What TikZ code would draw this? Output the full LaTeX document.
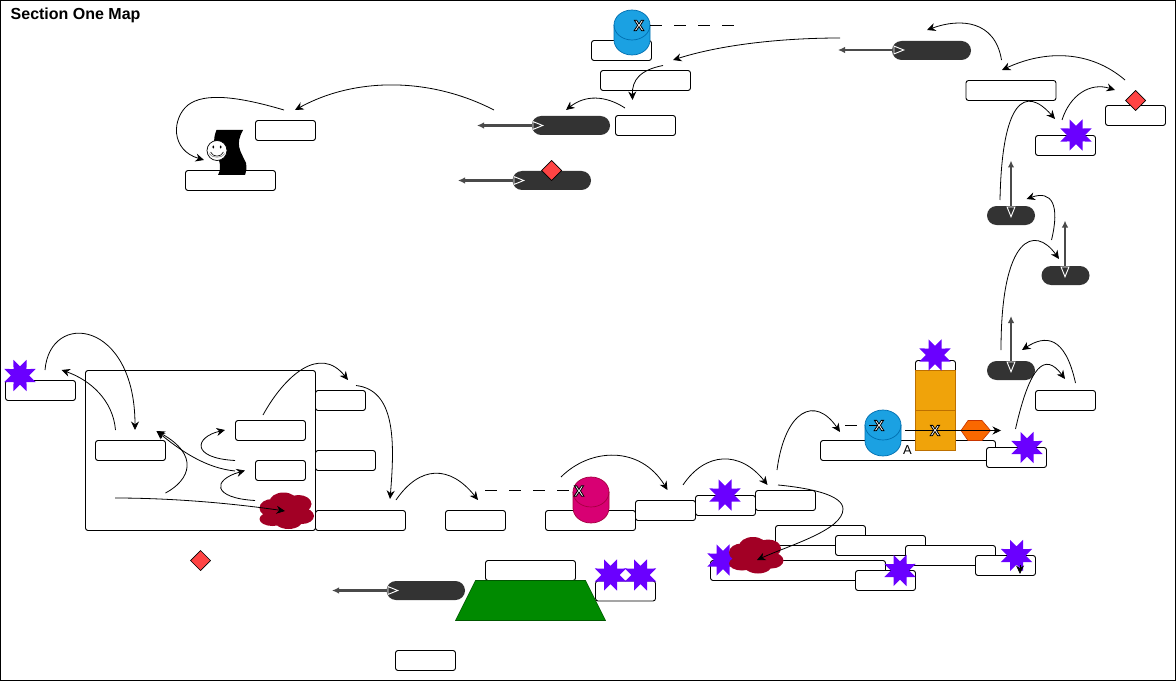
\documentclass[tikz,border=0pt]{standalone}
\usepackage{fontspec}
\setmainfont{Liberation Sans}
\usetikzlibrary{shapes.geometric,arrows.meta}
\definecolor{pillc}{HTML}{333333}
\definecolor{shaft}{HTML}{4A4A4A}
\definecolor{redd}{HTML}{FF4444}
\definecolor{purp}{HTML}{6A00FF}
\definecolor{blu}{HTML}{1BA1E2}
\definecolor{bluS}{HTML}{006EAF}
\definecolor{pnk}{HTML}{D80073}
\definecolor{pnkS}{HTML}{A50040}
\definecolor{orng}{HTML}{F0A30A}
\definecolor{orngS}{HTML}{BD7000}
\definecolor{hexF}{HTML}{FA6800}
\definecolor{hexS}{HTML}{C73500}
\definecolor{grn}{HTML}{008A00}
\definecolor{grnS}{HTML}{005700}
\definecolor{crim}{HTML}{A20025}
\tikzset{
  wbox/.style={draw=black,fill=white,line width=0.9pt,rounded corners=2.5pt,inner sep=0pt,outer sep=0pt,anchor=north west},
  pill/.style={fill=pillc,rounded corners=9.5pt,inner sep=0pt,outer sep=0pt,anchor=north west,minimum height=19pt},
  pstar/.style={star,star points=8,star point ratio=1.85,shape border rotate=22.5,fill=purp,inner sep=0pt,outer sep=0pt,minimum size=34pt},
  rdiam/.style={diamond,draw=black,fill=redd,line width=0.7pt,inner sep=0pt,outer sep=0pt,minimum size=20pt},
  arr/.style={draw=black,line width=0.8pt,-{Stealth[length=8.5pt,width=8pt]}},
  dbl/.style={draw=shaft,line width=2.2pt,{Latex[length=7pt,width=6.5pt,color=shaft]}-{Triangle[length=11.5pt,width=9pt,color=white,fill=pillc,line width=0.9pt]}},
  dash12/.style={draw=black,line width=0.8pt,dash pattern=on 12pt off 12pt},
  mark x/.style={inner sep=0pt,font=\bfseries\fontsize{15}{15}\selectfont}
}
\newcommand{\rb}[5]{\node[wbox,minimum width=#4pt,minimum height=#5pt] (#1) at (#2,#3) {};}
\newcommand{\pl}[4]{\node[pill,minimum width=#4pt] (#1) at (#2,#3) {};}
\newcommand{\xm}[3]{\node[mark x] (#1) at (#2,#3) {\special{pdf:code 2 Tr 0.8 w 0 0 0 RG 1 1 1 rg}X\special{pdf:code 0 Tr 0 g 0 G}};}
\newcommand{\cyl}[6]{%
  \path[fill=#5,draw=#6,line width=0.7pt] (#1,#2+15) arc[start angle=180,end angle=360,x radius=#3/2,y radius=15]
     -- (#1+#3,#4-15) arc[start angle=0,end angle=180,x radius=#3/2,y radius=15] -- cycle;
  \draw[#6,line width=0.7pt] (#1,#2+15) arc[start angle=180,end angle=0,x radius=#3/2,y radius=15];}
\newcommand{\cld}[2]{\begin{scope}[shift={(#1,#2)}]
  \fill[crim] (-14.5,-3) ellipse[x radius=12.5,y radius=9]
    (-14,8) ellipse[x radius=13,y radius=7]
    (-3,-9) ellipse[x radius=14,y radius=9.5]
    (12,-7) ellipse[x radius=13,y radius=9]
    (15.5,5) ellipse[x radius=12,y radius=8]
    (2,8) ellipse[x radius=15,y radius=10]
    (0,0) ellipse[x radius=16,y radius=10];
\end{scope}}
\begin{document}
\begin{tikzpicture}[x=1pt,y=-1pt]
\useasboundingbox (0,0) rectangle (1176,682);
\fill[white] (0,0) rectangle (1176,682);
\draw[black,line width=1pt] (0.5,0.5) rectangle (1175.5,680.5);
\node[anchor=west,font=\bfseries\fontsize{16}{16}\selectfont,inner sep=0pt] (title) at (10.5,15.5) {Section One Map};

% top right
\rb{b966}{966}{80.5}{90}{20}
\rb{b1105}{1105.5}{105.5}{60}{20}
\rb{b1035}{1035.5}{135.5}{60}{20}
\node[pstar] (s1) at (1076,135) {};
\node[rdiam] (d1) at (1135.5,100.5) {};
% top middle
\rb{b591}{591.5}{40.5}{60}{20}
\rb{b600}{600.5}{70.5}{90}{20}
\rb{b615}{615.5}{115.5}{60}{20}
\cyl{614}{10}{36}{55}{blu}{bluS}
\draw[dash12] (650,25.5) -- (735,25.5);
\xm{x1}{639}{25.5}
\rb{b255}{255.5}{120.5}{60}{20}
\rb{b185}{185.5}{170.5}{90}{20}
% wave + smiley
\fill[black] (216.5,130) -- (243,130) .. controls (235,145) and (240,150) .. (246,163)
  .. controls (247,168) and (246,172) .. (245,175) -- (218,175)
  .. controls (226,160) and (208,150) .. cycle;
\node[circle,draw=black,fill=white,line width=0.7pt,minimum size=20pt,inner sep=0pt] (smile) at (217,150.5) {};
\fill[black] (213.3,147) ellipse[x radius=1,y radius=1.6] (220.7,147) ellipse[x radius=1,y radius=1.6];
\draw[black,line width=0.6pt] (210.5,152) .. controls (213,157.5) and (221,157.5) .. (223.5,152);
\draw[gray,line width=0.5pt] (209,153.5) .. controls (212,158.5) and (222,158.5) .. (225,153.5);
% pills
\pl{p1}{892}{41}{79}
\pl{p2}{531.7}{116}{78.3}
\pl{p3}{512.5}{171}{78.5}
\pl{p4}{987}{206}{48}
\pl{p5}{1041.5}{266}{48}
\pl{p6}{987}{361}{48}
\pl{p7}{386.5}{581}{78.5}
\node[rdiam] (d2) at (551.5,170.5) {};
% left area
\rb{big}{85.5}{370.5}{230}{160}
\rb{b5}{5.5}{380.5}{70}{20}
\rb{b95}{95.5}{440.5}{70}{20}
\rb{b235}{235.5}{420.5}{70}{20}
\rb{b255b}{255.5}{460.5}{50}{20}
\rb{b315a}{315.5}{390.5}{50}{20}
\rb{b315b}{315.5}{450.5}{60}{20}
\rb{b315c}{315.5}{510.5}{90}{20}
\rb{b445}{445.5}{510.5}{60}{20}
\rb{b545}{545.5}{510.5}{90}{20}
\rb{b485}{485.5}{560.5}{90}{20}
\rb{b595}{595.5}{581}{60}{20}
\rb{b395}{395.5}{650.5}{60}{20}
\node[pstar] (s2) at (20,375.5) {};
\cld{286.5}{511}
\node[rdiam] (d3) at (200.5,560.5) {};
\cyl{573}{477}{36}{523}{pnk}{pnkS}
\draw[dash12] (485,490.5) -- (571,490.5);
\xm{x2}{579}{491}
\path[fill=grn,draw=grnS,line width=0.6pt] (475.5,580.5) -- (585.5,580.5) -- (605.5,620.5) -- (455.5,620.5) -- cycle;
\node[pstar] (s3) at (610.5,575) {};
\node[pstar] (s4) at (640.5,575) {};
% right lower
\rb{b1035b}{1035.5}{390.5}{60}{20}
\rb{b820}{820.5}{440.5}{175}{20}
\rb{b986}{986.5}{447.5}{60}{20}
\node[font=\fontsize{13}{13}\selectfont,inner sep=0pt] (lblA) at (907.5,450) {A};
\cyl{865}{410}{36}{456}{blu}{bluS}
\draw[dash12] (845,425.5) -- (879,425.5);
\xm{x3}{879}{425.5}
\rb{b915}{915.5}{360.5}{40}{20}
\draw[orngS,fill=orng,line width=0.7pt] (915.5,370.5) rectangle (955.5,410.5);
\draw[orngS,fill=orng,line width=0.7pt] (915.5,410.5) rectangle (955.5,450.5);
\node[pstar] (s5) at (935,355) {};
\node[pstar] (s6) at (1027,447.5) {};
\path[fill=hexF,draw=hexS,line width=0.6pt] (961,430.5) -- (968,420.5) -- (982,420.5) -- (990.5,430.5) -- (982,440.5) -- (968,440.5) -- cycle;
\coordinate (cxs) at (905,430.5);
\coordinate (cxe) at (1001,430.5);
\draw[arr] (cxs) -- (cxe);
\xm{x4}{935}{430.5}
% lower cluster
\rb{b635}{635.5}{500.5}{60}{20}
\rb{b695}{695.5}{495.5}{60}{20}
\rb{b755}{755.5}{490.5}{60}{20}
\node[pstar] (s7) at (725,495) {};
\rb{b775}{775.5}{525.5}{90}{20}
\rb{b835}{835.5}{535.5}{90}{20}
\rb{b905}{905.5}{545.5}{90}{20}
\rb{b710}{710.5}{560.5}{175}{20}
\rb{b855}{855.5}{570.5}{60}{20}
\rb{b975}{975.5}{555.5}{60}{20}
\node[pstar] (s8) at (723,560) {};
\cld{756}{555.5}
\node[pstar] (s9) at (900,570.5) {};
\node[pstar] (s10) at (1016.5,555.5) {};
% double arrows
\coordinate (a1) at (838,50); \coordinate (a2) at (905,50);
\draw[dbl] (a1) -- (a2);
\coordinate (a3) at (477,125.5); \coordinate (a4) at (544,125.5);
\draw[dbl] (a3) -- (a4);
\coordinate (a5) at (458,180.5); \coordinate (a6) at (525,180.5);
\draw[dbl] (a5) -- (a6);
\coordinate (a7) at (1011,160.5); \coordinate (a8) at (1011,218);
\draw[dbl] (a7) -- (a8);
\coordinate (a9) at (1065,220.5); \coordinate (a10) at (1065,278);
\draw[dbl] (a9) -- (a10);
\coordinate (a11) at (1011,316); \coordinate (a12) at (1011,373);
\draw[dbl] (a11) -- (a12);
\coordinate (a13) at (332,590.5); \coordinate (a14) at (399,590.5);
\draw[dbl] (a13) -- (a14);
% curves
\newcommand{\cv}[5]{\coordinate (#1s) at (#2); \coordinate (#1e) at (#5); \draw[arr] (#1s) .. controls (#3) and (#4) .. (#1e);}
\cv{c2}{494,110}{430,77}{355,77}{295,110}
\draw[arr] (284,110) .. controls (240,97) and (205,92) .. (188,105) .. controls (172,118) and (170,150) .. (204,160);
\cv{c3}{840,38}{780,38}{720,45}{673,60}
\cv{c4}{663,65.5}{640,70}{632,80}{632.5,100}
\cv{c5}{625,108}{605,95}{585,95}{566,110}
\cv{c6}{1001.5,60}{995,20}{960,18}{927,30}
\cv{c7}{1125,80}{1090,50}{1045,50}{1002,70}
\cv{c8}{1062,120}{1070,95}{1090,82}{1115,90}
\cv{c9}{1000,200}{1002,100}{1025,85}{1055,119}
\cv{c10}{1051.5,240}{1060,205}{1052,190}{1026.5,199}
\cv{c11}{1001,350}{1001,235}{1035,225}{1059,259}
\cv{c12}{1075.5,383}{1065,335}{1045,335}{1022,350}
\cv{c13}{1015.5,429}{1030,365}{1045,352}{1065,379}
\cv{c15}{777,470}{785,410}{815,395}{840,432}
\draw[arr] (778,485) .. controls (810,488) and (843,495) .. (843,509) .. controls (843,530) and (790,545) .. (757,560);
\cv{c18}{683,485}{705,452}{740,450}{767.5,485}
\cv{c19}{561,477}{590,448}{640,445}{667.5,490}
\cv{c20}{396,500}{420,465}{450,465}{478,500}
\cv{c21}{356,385.5}{395,390}{395,440}{390,499}
\cv{c22}{263,415}{285,375}{320,345}{348,380}
\cv{c23}{45,370}{50,310}{135,320}{135,430}
\cv{c24}{115.5,430}{113,400}{90,380}{61.5,370}
\cv{c25}{165.5,493}{190,480}{200,455}{156.5,431}
\cv{c26}{235,471}{205,468}{180,450}{156.5,431}
\cv{c27}{235,460.5}{190,458}{195,437}{225,430}
\cv{c28}{255,500.5}{212,498}{212,480}{245,470.5}
\cv{c29}{115,498}{170,498}{230,503}{285,511}
\coordinate (c30s) at (1020,565); \coordinate (c30e) at (1020,574);
\draw[arr] (c30s) -- (c30e);
\end{tikzpicture}
\end{document}
